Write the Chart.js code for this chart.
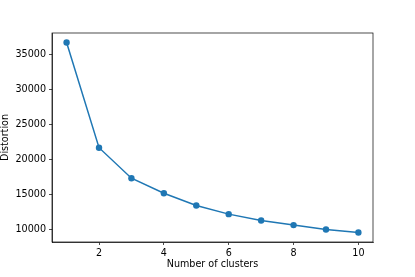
<!DOCTYPE html>
<html>
<head>
<meta charset="utf-8">
<script src="https://cdn.jsdelivr.net/npm/chart.js@4"></script>
<style>
  html, body { margin: 0; padding: 0; background: #fff; }
  canvas { display: block; }
</style>
</head>
<body>
<canvas id="elbow" width="415" height="277"></canvas>
<script>
// data
const clusters = [1, 2, 3, 4, 5, 6, 7, 8, 9, 10];
const distortion = [36660, 21690, 17340, 15210, 13450, 12230, 11320, 10670, 10040, 9620];
const xTicks = [2, 4, 6, 8, 10];
const yTicks = [10000, 15000, 20000, 25000, 30000, 35000];

const blue = '#1f77b4';
const font = { family: 'DejaVu Sans', size: 9.6 };

// top + right spines like matplotlib
const frame = {
    id: 'frame',
    afterDraw(chart) {
        const { ctx, chartArea: a } = chart;
        ctx.save();
        ctx.strokeStyle = '#000';
        ctx.lineWidth = 0.7;
        ctx.strokeRect(a.left, a.top, a.right - a.left, a.bottom - a.top);
        ctx.restore();
    }
};

new Chart(document.getElementById('elbow'), {
    type: 'line',
    data: {
        datasets: [{
            data: clusters.map((c, i) => ({ x: c, y: distortion[i] })),
            borderColor: blue,
            backgroundColor: blue,
            borderWidth: 1.5,
            pointRadius: 3.2,
            pointBorderWidth: 0,
            tension: 0
        }]
    },
    plugins: [frame],
    options: {
        responsive: false,
        animation: false,
        layout: { padding: { top: 33, right: 42, left: 0, bottom: 0 } },
        plugins: { legend: { display: false }, tooltip: { enabled: false } },
        scales: {
            x: {
                type: 'linear',
                min: 0.55,
                max: 10.45,
                afterBuildTicks: axis => { axis.ticks = xTicks.map(v => ({ value: v })); },
                afterFit: axis => { axis.height = 35; },
                grid: { drawOnChartArea: false, tickLength: 3, color: '#000', lineWidth: 0.7 },
                border: { color: '#000', width: 0.7 },
                ticks: { color: '#000', font: font, padding: 3, maxRotation: 0 },
                title: { display: true, text: 'Number of clusters', color: '#000', font: font, padding: { top: 0, bottom: 7 } }
            },
            y: {
                min: 8264,
                max: 38014,
                afterBuildTicks: axis => { axis.ticks = yTicks.map(v => ({ value: v })); },
                afterFit: axis => { axis.width = 52; },
                grid: { drawOnChartArea: false, tickLength: 3, color: '#000', lineWidth: 0.7 },
                border: { color: '#000', width: 0.7 },
                ticks: { color: '#000', font: font, padding: 3, callback: v => String(v) },
                title: { display: true, text: 'Distortion', color: '#000', font: font, padding: { top: 0, bottom: 0 } }
            }
        }
    }
});
</script>
</body>
</html>
